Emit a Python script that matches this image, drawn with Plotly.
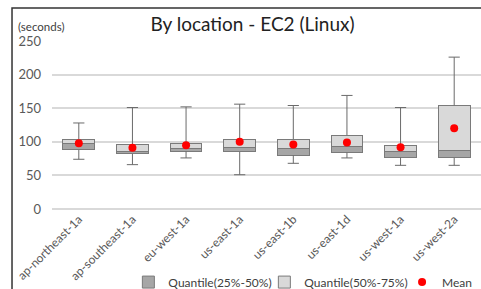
import plotly.graph_objects as go

categories = ["ap-northeast-1a", "ap-southeast-1a", "eu-west-1a", "us-east-1a",
              "us-east-1b", "us-east-1d", "us-west-1a", "us-west-2a"]
q_min = [74, 66, 76, 51, 68, 76, 65, 65]
q1 = [88, 82, 86, 85, 80, 84, 77, 76]
median = [97, 86, 90, 92, 90, 93, 85, 87]
q3 = [104, 96, 98, 103, 104, 110, 94, 154]
q_max = [128, 151, 152, 156, 154, 169, 151, 226]
mean = [98, 91, 95, 100, 96, 99, 92, 120]

FONT = "Lato, 'Liberation Sans', sans-serif"
EDGE = "#7a7a7a"

fig = go.Figure()

# invisible base
fig.add_trace(go.Bar(x=categories, y=q1, marker=dict(color="rgba(0,0,0,0)", line=dict(width=0)),
                     showlegend=False, hoverinfo="skip"))
fig.add_trace(go.Bar(x=categories, y=[m - a for m, a in zip(median, q1)],
                     name="Quantile(25%-50%)", legend="legend",
                     marker=dict(color="#a6a6a6", line=dict(color=EDGE, width=1))))
fig.add_trace(go.Bar(x=categories, y=[b - m for b, m in zip(q3, median)],
                     name="Quantile(50%-75%)", legend="legend2",
                     marker=dict(color="#d9d9d9", line=dict(color=EDGE, width=1))))

# whiskers
wx, wy = [], []
for c, lo, a, b, hi in zip(categories, q_min, q1, q3, q_max):
    wx += [c, c, None, c, c, None]
    wy += [b, hi, None, lo, a, None]
fig.add_trace(go.Scatter(x=wx, y=wy, mode="lines", line=dict(color="#6a6a6a", width=1),
                         showlegend=False, hoverinfo="skip"))
fig.add_trace(go.Scatter(x=categories + categories, y=q_max + q_min, mode="markers",
                         marker=dict(symbol="line-ew", size=8, line=dict(color="#6a6a6a", width=1)),
                         showlegend=False, hoverinfo="skip"))

fig.add_trace(go.Scatter(x=categories, y=mean, mode="markers", name="Mean", legend="legend3",
                         marker=dict(color="#ff0000", size=8)))

LEG_FONT = dict(family=FONT, size=12, color="#404040")
leg_common = dict(orientation="h", xanchor="left", y=-0.435, yanchor="middle",
                  font=LEG_FONT, bgcolor="rgba(0,0,0,0)", itemwidth=30)

fig.update_layout(
    width=481, height=289,
    margin=dict(l=52, r=0, t=41, b=80, autoexpand=False),
    barmode="stack", bargap=0.41,
    paper_bgcolor="white", plot_bgcolor="white",
    font=dict(family=FONT, color="#595959", size=11),
    title=dict(text="By location - EC2 (Linux)", x=0.525, xanchor="center",
               y=0.917, yanchor="middle",
               font=dict(family=FONT, size=19, color="#222222")),
    showlegend=True,
    legend=dict(x=0.178, **leg_common),
    legend2=dict(x=0.495, **leg_common),
    legend3=dict(x=0.816, **leg_common),
    xaxis=dict(tickangle=-45, showgrid=False, showline=False, ticks="", automargin=False,
               tickfont=dict(family=FONT, size=12, color="#595959")),
    yaxis=dict(range=[0, 250], dtick=50, showgrid=True, gridcolor="#d9d9d9", gridwidth=1.5,
               zeroline=True, zerolinecolor="#d9d9d9", zerolinewidth=1.5, automargin=False,
               showline=False, ticks="", ticklabelstandoff=10,
               tickfont=dict(family=FONT, size=13, color="#595959")),
    annotations=[dict(text="(seconds)", xref="paper", yref="paper", x=-0.085, y=1.085,
                      xanchor="left", yanchor="middle", showarrow=False,
                      font=dict(family=FONT, size=11.5, color="#404040"))],
    shapes=[dict(type="rect", xref="paper", yref="paper", x0=-0.0932, x1=1.2,
                 y0=-0.8, y1=1.196, line=dict(color="#333333", width=1.5), layer="below")],
)

fig.write_html("out.html", config={"displayModeBar": False},
               post_script="document.body.style.margin='0';document.body.style.overflow='hidden';")
